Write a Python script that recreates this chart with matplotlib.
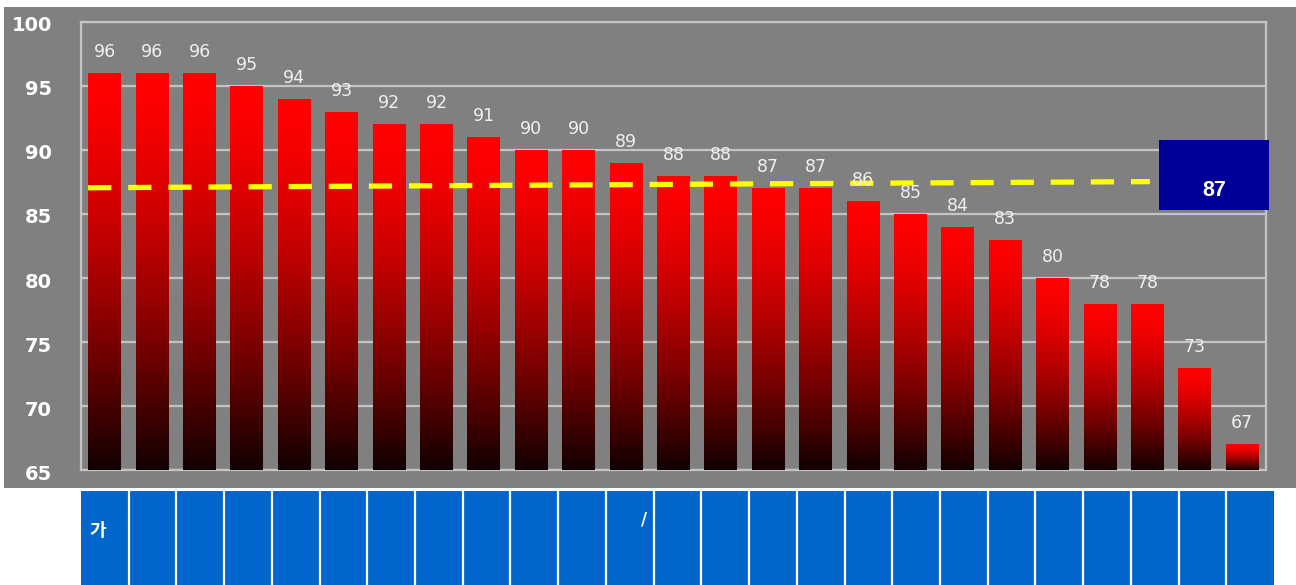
import matplotlib.pyplot as plt
import numpy as np
from matplotlib.patches import Rectangle

# --- data ---------------------------------------------------------------------
values = [96, 96, 96, 95, 94, 93, 92, 92, 91, 90, 90, 89, 88, 88, 87, 87,
          86, 85, 84, 83, 80, 78, 78, 73, 67]
avg_line_y = [87.05, 87.53]          # dashed average line, left/right end
y_ticks = [65, 70, 75, 80, 85, 90, 95, 100]
cell_labels = {0: "가", 11: "/"}       # what is visible in the bottom strip

# --- layout / colours ---------------------------------------------------------
W, H = 1296, 585
GRAY = "#808080"
GRID = "#c4c4c4"
TABLE_BLUE = "#0066cc"
BOX_BLUE = "#000099"

fig = plt.figure(figsize=(W / 100, H / 100), dpi=100)
fig.patch.set_facecolor("white")

# grey backdrop behind the chart
fig.add_artist(Rectangle((4 / W, 1 - 488 / H), 1 - 4 / W, (488 - 7) / H,
                         transform=fig.transFigure, facecolor=GRAY,
                         edgecolor="none", zorder=0))

ax = fig.add_axes([81 / W, 1 - 470 / H, (1266 - 81) / W, (470 - 22) / H])
ax.set_facecolor(GRAY)

# horizontal grid lines, drawn explicitly below the bars
for t in y_ticks:
    ax.axhline(t, color=GRID, lw=1.6, zorder=0.5)

x = np.arange(len(values))
vals = np.array(values, dtype=float)
bars = ax.bar(x, vals - 65, bottom=65, width=0.7, color="none", zorder=2)

# red -> black gradient inside every bar (solid rectangles, stacked thin strips)
N = 120
s = (np.arange(N) + 0.5) / N          # 0 at top, 1 at bottom
v = 1 - 0.94 * s ** 1.5
for p in bars:
    x0, w, h = p.get_x(), p.get_width(), p.get_height()
    top = 65 + h
    dh = h / N
    for k in range(N):
        ax.add_patch(Rectangle((x0, top - (k + 1) * dh), w, dh * 1.02,
                               facecolor=(v[k], 0, 0), edgecolor="none",
                               lw=0, zorder=2))

# value labels
for xi, val in zip(x, values):
    ax.annotate(str(val), (xi, val), xytext=(0, 11.5), textcoords="offset points",
                ha="center", va="baseline", color="#f0f0f0", fontsize=12.5,
                family="DejaVu Sans", zorder=5)

# dashed average line
ax.plot([-0.35, 22.05], avg_line_y, color="#ffff00", lw=3.8,
        linestyle=(0, (4.4, 3.2)), solid_capstyle="butt",
        dash_capstyle="butt", zorder=3)

# average box
ax.add_patch(Rectangle((22.24, 85.3), 2.32, 5.5, facecolor=BOX_BLUE,
                       edgecolor="none", clip_on=False, zorder=4))
ax.text(23.4, 86.8, f"{round(vals.mean())}", ha="center", va="center",
        color="white", fontsize=15.5, fontweight="bold",
        family="Liberation Sans", zorder=5)

ax.set_xlim(-0.5, len(values) - 0.5)
ax.set_ylim(65, 100)
ax.set_yticks(y_ticks)
ax.set_yticklabels([str(t) for t in y_ticks], color="white", fontsize=14,
                   fontweight="bold", family="DejaVu Sans")
for lab in ax.get_yticklabels():
    lab.set_y(lab.get_position()[1])
ax.set_xticks([])
ax.tick_params(axis="y", direction="in", length=6, width=1.5, color=GRID,
               pad=21)
for sp in ax.spines.values():
    sp.set_color(GRID)
    sp.set_linewidth(1.6)
    sp.set_zorder(1)

# nudge tick labels a touch below their grid lines, as in the source
import matplotlib.transforms as mtransforms
offset = mtransforms.ScaledTranslation(0, -2 / 100, fig.dpi_scale_trans)
for lab in ax.get_yticklabels():
    lab.set_transform(lab.get_transform() + offset)

# bottom blue strip (table-like cells)
tax = fig.add_axes([81 / W, 0, (1274 - 81) / W, (585 - 491) / H])
tax.set_facecolor(TABLE_BLUE)
tax.set_xlim(0, len(values))
tax.set_ylim(0, 1)
for b in range(1, len(values)):
    tax.axvline(b, color="white", lw=1.6)
for sp in tax.spines.values():
    sp.set_visible(False)
tax.set_xticks([])
tax.set_yticks([])
tax.text(0 + 0.17, 0.585, cell_labels[0], ha="left", va="center", color="white",
         fontsize=13, fontweight="bold",
         family=["Noto Sans CJK KR", "DejaVu Sans"])
tax.text(11 + 0.8, 0.70, cell_labels[11], ha="center", va="center",
         color="white", fontsize=12, fontweight="bold",
         family="DejaVu Sans")

fig.savefig("out.png", dpi=100)
